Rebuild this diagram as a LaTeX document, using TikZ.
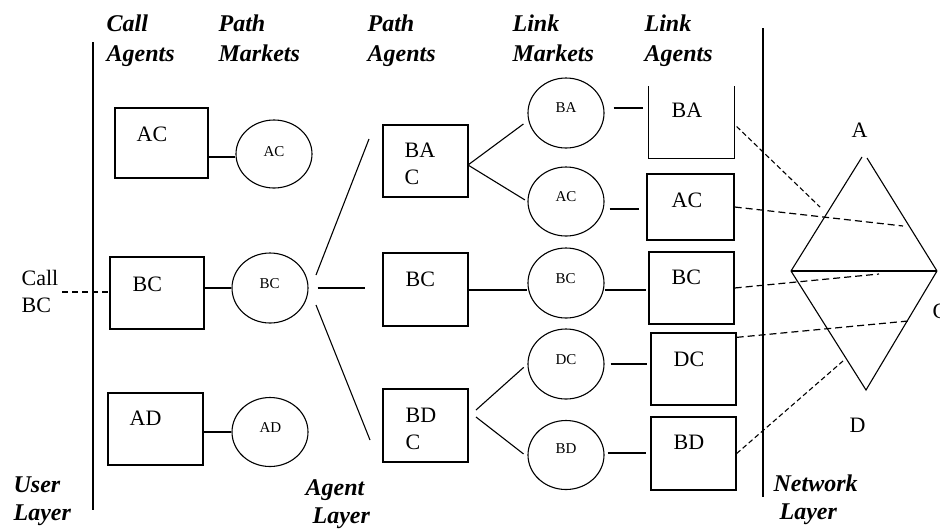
\documentclass[tikz,border=0pt]{standalone}
\usepackage{fontspec}
\setmainfont{Liberation Serif}
\usetikzlibrary{shapes.geometric}
\begin{document}
\begin{tikzpicture}[x=1pt,y=-1pt,
  line width=1.3pt,
  box/.style={draw,rectangle,inner sep=0pt},
  market/.style={draw,ellipse,inner sep=0pt,line width=1.1pt},
  ghost/.style={rectangle,inner sep=0pt},
  boxlbl/.style={anchor=base west,inner sep=0pt,font=\fontsize{22}{27}\selectfont},
  mktlbl/.style={anchor=base west,inner sep=0pt,font=\fontsize{15}{18}\selectfont},
  stacklbl/.style={anchor=north west,inner sep=0pt,align=left,font=\fontsize{22}{27}\selectfont},
  heading/.style={anchor=north west,inner sep=0pt,align=left,font=\fontsize{24}{30}\selectfont\bfseries\itshape},
  layer/.style={anchor=north west,inner sep=0pt,align=left,font=\fontsize{24}{28}\selectfont\bfseries\itshape},
  netdash/.style={dash pattern=on 7pt off 4pt,line width=1.2pt},
]
\useasboundingbox (0,0) rectangle (940,531);

% column headings
\node[heading] (hcall) at (106,14) {Call\\Agents};
\node[heading] (hpm) at (218,14) {Path\\Markets};
\node[heading] (hpa) at (367,14) {Path\\Agents};
\node[heading] (hlm) at (512,14) {Link\\Markets};
\node[heading] (hla) at (644,14) {Link\\Agents};

% layer names
\node[layer] (huser) at (13,476) {User\\Layer};
\node[layer] (hagent) at (305,479) {Agent\\\hspace*{7pt}Layer};
\node[layer] (hnet) at (773,474) {Network\\\hspace*{6pt}Layer};

% layer separators
\coordinate (ut) at (93,42);  \coordinate (ub) at (93,510);
\coordinate (nt) at (763,28); \coordinate (nb) at (763,497);
\draw (ut) -- (ub);
\draw (nt) -- (nb);

% call agents
\node[box,minimum width=93pt,minimum height=70pt] (ca1) at (161.5,143) {};
\node[box,minimum width=94pt,minimum height=72pt] (ca2) at (157,293) {};
\node[box,minimum width=95pt,minimum height=72pt] (ca3) at (155.5,429) {};
\node[boxlbl] (ca1t) at (136,141) {AC};
\node[boxlbl] (ca2t) at (132,291) {BC};
\node[boxlbl] (ca3t) at (129,425) {AD};

% path markets
\node[market,minimum width=76pt,minimum height=68pt] (pm1) at (274,154) {};
\node[market,minimum width=76pt,minimum height=70pt] (pm2) at (270,288) {};
\node[market,minimum width=76pt,minimum height=69pt] (pm3) at (270,432) {};
\node[mktlbl] (pm1t) at (263,156) {AC};
\node[mktlbl] (pm2t) at (259,288) {BC};
\node[mktlbl] (pm3t) at (259,432) {AD};

\draw (ca1.east |- 0,157) -- (pm1.west |- 0,157);
\draw (ca2.east |- pm2.west) -- (pm2.west);
\draw (ca3.east |- pm3.west) -- (pm3.west);

% incoming call
\node[stacklbl] (call) at (21,270) {Call\\BC};
\coordinate (callend) at (62,292);
\draw[dash pattern=on 6pt off 4pt] (callend) -- (callend -| ca2.west);

% path agents
\node[box,minimum width=85pt,minimum height=72pt] (pa1) at (425.5,161) {};
\node[box,minimum width=85pt,minimum height=73pt] (pa2) at (425.5,289.5) {};
\node[box,minimum width=85pt,minimum height=73pt] (pa3) at (425.5,425.5) {};
\node[stacklbl] (pa1t) at (404,142) {BA\\C};
\node[boxlbl] (pa2t) at (405,286) {BC};
\node[stacklbl] (pa3t) at (405,407) {BD\\C};

% fan from the BC path market
\coordinate (f1a) at (316,275); \coordinate (f1b) at (369,139);
\coordinate (f3a) at (316,305); \coordinate (f3b) at (370,440);
\draw[line width=1.1pt] (f1a) -- (f1b);
\draw[line width=1.1pt] (f3a) -- (f3b);
\draw[shorten <=9pt,shorten >=17pt] (pm2.east) -- (pm2.east -| pa2.west);

% link markets
\node[market,minimum width=76pt,minimum height=70pt] (lm1) at (566,113) {};
\node[market,minimum width=76pt,minimum height=69pt] (lm2) at (566,201.5) {};
\node[market,minimum width=76pt,minimum height=70pt] (lm3) at (566,283) {};
\node[market,minimum width=76pt,minimum height=70pt] (lm4) at (566,364) {};
\node[market,minimum width=76pt,minimum height=69pt] (lm5) at (566,455) {};
\node[mktlbl] (lm1t) at (555,112) {BA};
\node[mktlbl] (lm2t) at (555,201) {AC};
\node[mktlbl] (lm3t) at (555,283) {BC};
\node[mktlbl] (lm4t) at (555,364) {DC};
\node[mktlbl] (lm5t) at (555,453) {BD};

% path agents to link markets
\coordinate (pa1fan) at (468,165);
\coordinate (pa3fanu) at (476,410);
\coordinate (pa3fanl) at (476,417);
\draw[line width=1.1pt,shorten >=5pt] (pa1fan) -- ([yshift=-8pt]lm1.west);
\draw[line width=1.1pt,shorten >=3pt] (pa1fan) -- (lm2.west);
\draw (pa2.east |- 0,290) -- (lm3.west |- 0,290);
\draw[line width=1.1pt,shorten >=5pt] (pa3fanu) -- (lm4.west);
\draw[line width=1.1pt,shorten >=5pt] (pa3fanl) -- ([yshift=-2pt]lm5.west);

% link agents
\node[ghost,minimum width=85pt,minimum height=71pt] (la1) at (691.5,122.5) {};
\draw (la1.north west) -- (la1.south west) -- (la1.south east) -- (la1.north east);
\node[box,minimum width=87pt,minimum height=66pt] (la2) at (690.5,207) {};
\node[box,minimum width=85pt,minimum height=72pt] (la3) at (691.5,288) {};
\node[box,minimum width=85pt,minimum height=72pt] (la4) at (693.5,369) {};
\node[box,minimum width=85pt,minimum height=73pt] (la5) at (693.5,453.5) {};
\node[boxlbl] (la1t) at (671,117) {BA};
\node[boxlbl] (la2t) at (671,207) {AC};
\node[boxlbl] (la3t) at (671,284) {BC};
\node[boxlbl] (la4t) at (673,366) {DC};
\node[boxlbl] (la5t) at (673,449) {BD};

% link markets to link agents
\draw[shorten <=9pt,shorten >=5pt] ([yshift=5pt]lm1.east) -- ([yshift=5pt]lm1.east -| la1.west);
\draw[shorten <=5pt,shorten >=7pt] ([yshift=-7.5pt]lm2.east) -- ([yshift=-7.5pt]lm2.east -| la2.west);
\draw[shorten >=2pt] ([yshift=-7pt]lm3.east) -- ([yshift=-7pt]lm3.east -| la3.west);
\draw[shorten <=6pt,shorten >=3pt] (lm4.east) -- (lm4.east -| la4.west);
\draw[shorten <=3pt,shorten >=4pt] ([yshift=2pt]lm5.east) -- ([yshift=2pt]lm5.east -| la5.west);

% network graph
\coordinate (tAl) at (862,157);
\coordinate (tAr) at (867,158);
\coordinate (tB) at (791,271);
\coordinate (tC) at (937,271);
\coordinate (tD) at (866,390);
\draw[line width=1.1pt] (tB) -- (tAl);
\draw[line width=1.1pt] (tAr) -- (tC);
\draw (tB) -- (tC);
\draw[line width=1.1pt] (tB) -- (tD) -- (tC);
\node[boxlbl] (lA) at (851,137) {A};
\node[boxlbl] (lC) at (932,318) {C};
\node[boxlbl] (lD) at (849,432) {D};

% link agents mapped onto network links
\coordinate (e1) at (820,207);
\coordinate (e2) at (903,226);
\coordinate (e3) at (879,274);
\coordinate (e4) at (908,321);
\coordinate (e5) at (843,361);
\draw[dash pattern=on 5pt off 3pt,line width=1.1pt] ([xshift=2pt,yshift=-4pt]la1.east) -- (e1);
\draw[netdash] (la2.east) -- (e2);
\draw[netdash] (la3.east) -- (e3);
\draw[netdash] ([yshift=-5pt]la4.north east) -- (e4);
\draw[dash pattern=on 5pt off 3pt,line width=1.1pt] (la5.east) -- (e5);
\end{tikzpicture}
\end{document}
